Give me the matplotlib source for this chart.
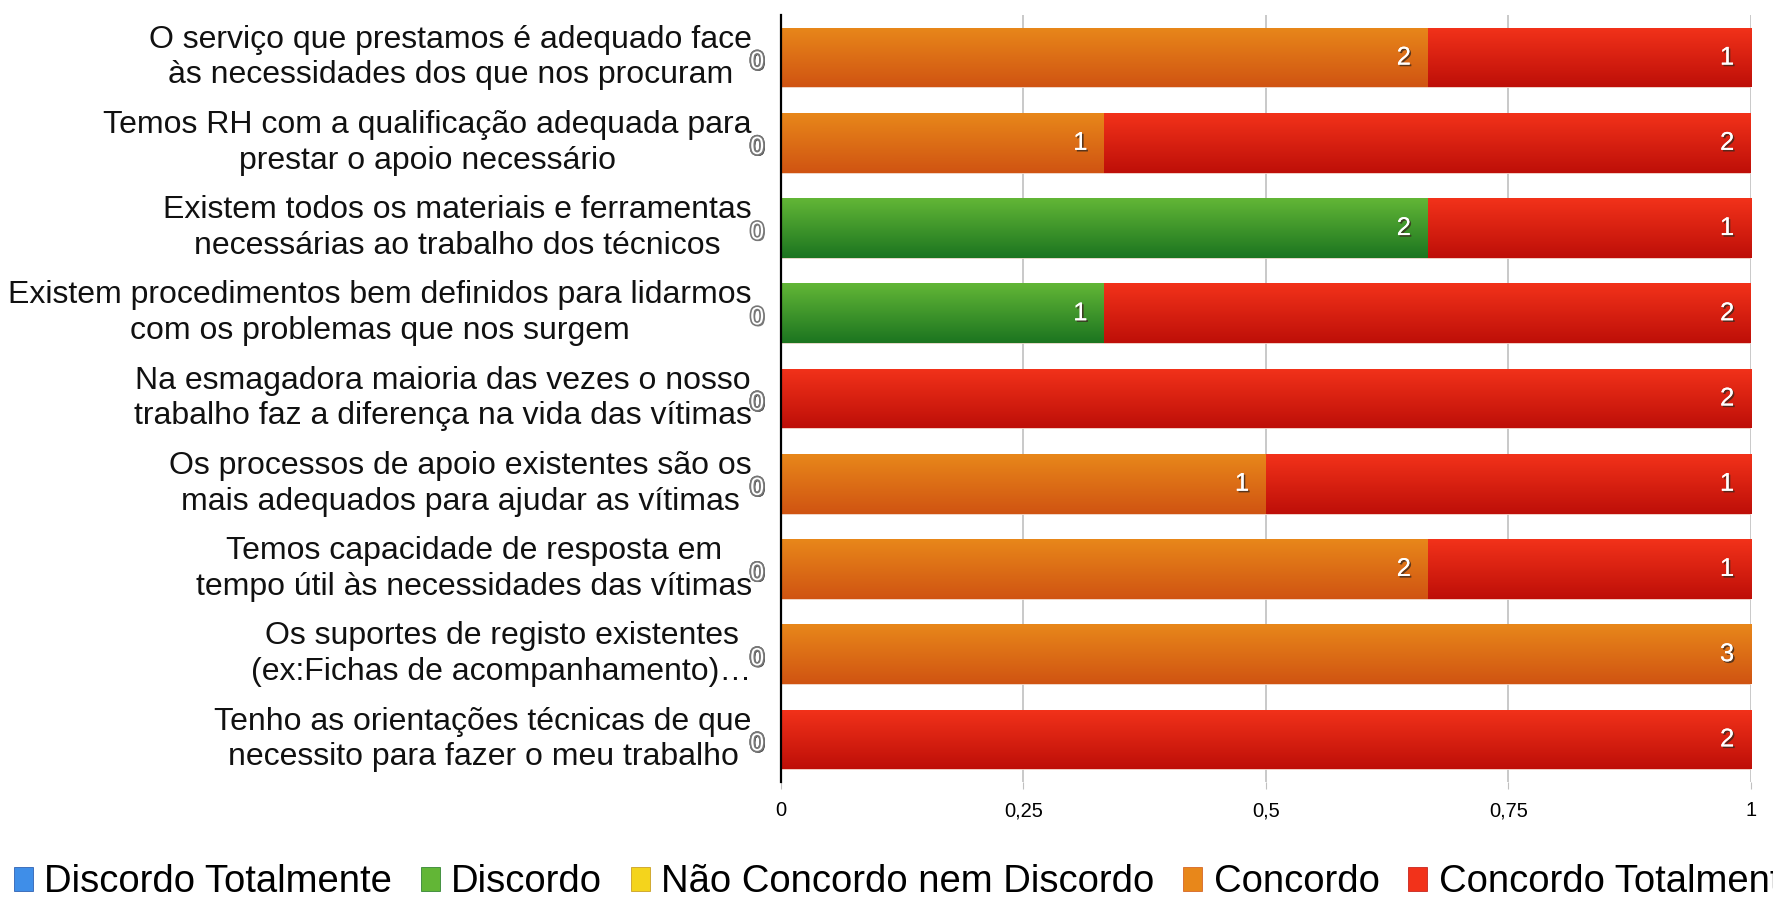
import matplotlib.pyplot as plt
import matplotlib.patheffects as pe
from matplotlib.colors import LinearSegmentedColormap
from matplotlib.patches import Patch
import numpy as np

plt.rcParams['font.family'] = ['Liberation Sans', 'DejaVu Sans']

categories = [
    'O serviço que prestamos é adequado face\nàs necessidades dos que nos procuram',
    'Temos RH com a qualificação adequada para\nprestar o apoio necessário',
    'Existem todos os materiais e ferramentas\nnecessárias ao trabalho dos técnicos',
    'Existem procedimentos bem definidos para lidarmos\ncom os problemas que nos surgem',
    'Na esmagadora maioria das vezes o nosso\ntrabalho faz a diferença na vida das vítimas',
    'Os processos de apoio existentes são os\nmais adequados para ajudar as vítimas',
    'Temos capacidade de resposta em\ntempo útil às necessidades das vítimas',
    'Os suportes de registo existentes\n(ex:Fichas de acompanhamento)…',
    'Tenho as orientações técnicas de que\nnecessito para fazer o meu trabalho',
]
series = ['Discordo Totalmente', 'Discordo', 'Não Concordo nem Discordo',
          'Concordo', 'Concordo Totalmente']
discordo_totalmente = [0, 0, 0, 0, 0, 0, 0, 0, 0]
discordo = [0, 0, 2, 1, 0, 0, 0, 0, 0]
nem = [0, 0, 0, 0, 0, 0, 0, 0, 0]
concordo = [2, 1, 0, 0, 0, 1, 2, 3, 0]
concordo_totalmente = [1, 2, 1, 2, 2, 1, 1, 0, 2]
xticks = [0, 0.25, 0.5, 0.75, 1]
xtick_labels = ['0', '0,25', '0,5', '0,75', '1']

# (top colour, bottom colour) for the gradient look
colors = [('#3f8ee8', '#1a4ea6'), ('#62b636', '#1c7520'), ('#f4d41c', '#c09010'),
          ('#e8871a', '#d05412'), ('#f2321a', '#be0f08')]

values = np.array([discordo_totalmente, discordo, nem, concordo, concordo_totalmente], dtype=float)
totals = values.sum(axis=0)
frac = values / totals

fig = plt.figure(figsize=(17.74, 9.02), dpi=100)
ax = fig.add_axes([0.4402, 0.133, 0.987 - 0.4402, 0.9834 - 0.133])

y = np.arange(len(categories))
grad = np.linspace(0, 1, 64).reshape(-1, 1)
left = np.zeros(len(categories))
for k in range(len(series)):
    bars = ax.barh(y, frac[k], left=left, height=0.70, color=colors[k][0],
                   edgecolor='#f0d8d0', linewidth=0.6, zorder=2)
    cmap = LinearSegmentedColormap.from_list('g%d' % k, [colors[k][0], colors[k][1]])
    for b in bars:
        if b.get_width() <= 0:
            continue
        x0, y0 = b.get_x(), b.get_y()
        im = ax.imshow(grad, cmap=cmap, aspect='auto', interpolation='bicubic',
                       extent=(x0, x0 + b.get_width(), y0 + b.get_height(), y0), zorder=2.5)
        im.set_clip_path(b)
    for i in range(len(categories)):
        v = values[k, i]
        end = left[i] + frac[k, i]
        if v == 0:
            if left[i] == 0:
                ax.annotate('0', (0, y[i]), xytext=(-12, -3), textcoords='offset points',
                            ha='right', va='center', fontsize=18, color='white',
                            path_effects=[pe.withSimplePatchShadow(offset=(1.2, -1.2), shadow_rgbFace='#444444', alpha=0.7),
                                          pe.withStroke(linewidth=2.4, foreground='#777777')],
                            zorder=5, annotation_clip=False)
        else:
            ax.annotate('%d' % v, (end, y[i]), xytext=(-12, 0), textcoords='offset points',
                        ha='right', va='center', fontsize=18.5, color='white',
                        path_effects=[pe.withSimplePatchShadow(offset=(1.2, -1.2), shadow_rgbFace='#3a2a20', alpha=0.8),
                                      pe.Normal()],
                        zorder=5)
    left = left + frac[k]

ax.set_xlim(0, 1)
ax.set_ylim(len(categories) - 0.5, -0.5)
ax.set_xticks(xticks)
ax.set_xticklabels(xtick_labels, fontsize=14.5)
ax.set_yticks([])
ax.grid(axis='x', color='#c0c0c0', linewidth=1.2, zorder=0)
ax.set_axisbelow(True)
for s in ['top', 'right', 'bottom']:
    ax.spines[s].set_visible(False)
ax.spines['left'].set_linewidth(1.6)
ax.spines['left'].set_color('black')
ax.tick_params(axis='x', length=5, color='#c0c0c0', pad=9)

for i, c in enumerate(categories):
    ax.annotate(c, (0, y[i]), xytext=(-21, 0), textcoords='offset points',
                ha='right', va='center', multialignment='center', fontsize=23,
                linespacing=1.25, color='#111111', annotation_clip=False)

handles = [Patch(facecolor=colors[k][0], edgecolor=colors[k][1], linewidth=0.5) for k in range(len(series))]
fig.legend(handles, series, loc='center left', bbox_to_anchor=(-0.001, 0.022), ncol=5,
           frameon=False, fontsize=27.5, handlelength=0.5, handleheight=0.6,
           handletextpad=0.3, columnspacing=0.75, borderaxespad=0)

fig.savefig('out.png', dpi=100)
